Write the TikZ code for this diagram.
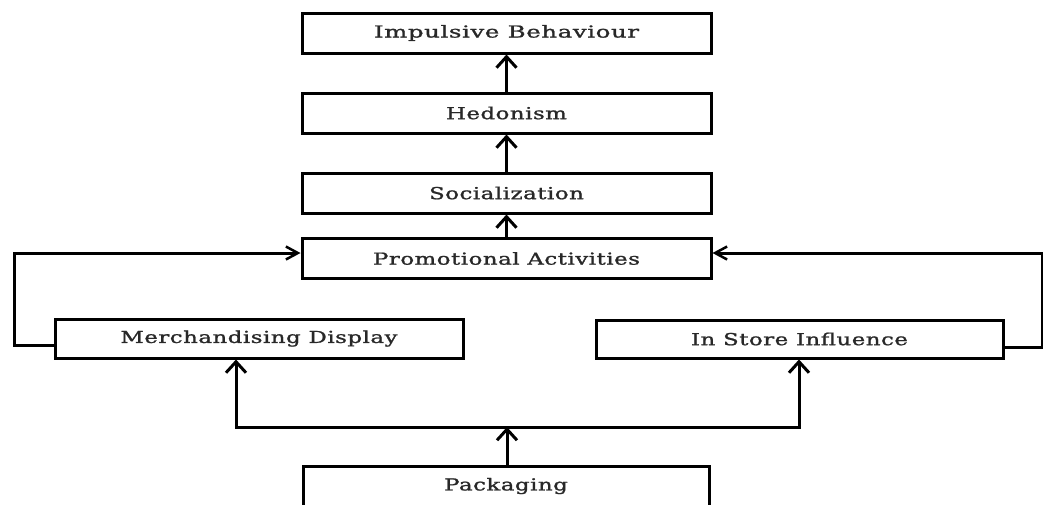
\documentclass[tikz,border=0pt]{standalone}
\usepackage{fontspec}
\usepackage{graphicx}
\newfontfamily\lblfont[LetterSpace=2.5,FakeBold=1.2]{DejaVu Serif}
\usetikzlibrary{arrows.meta}
\definecolor{txt}{RGB}{40,40,40}
\newcommand{\lbl}[2][1.38]{\scalebox{#1}[1]{#2}}
\tikzset{
  box/.style={draw=black, line width=3pt, minimum height=40pt, inner sep=0pt,
    font=\lblfont\fontsize{16.5}{20}\selectfont, text=txt},
  conn/.style={line width=3pt, draw=black},
  vtip/.style={-{Straight Barb[length=11pt,width=20pt,line width=3pt]}},
  htip/.style={-{Straight Barb[length=12pt,width=13pt,line width=2.5pt]}}
}
\begin{document}
\begin{tikzpicture}[x=1pt,y=-1pt]
\useasboundingbox (0,0) rectangle (1043,504);
\clip (0,0) rectangle (1043,504);
\node[box, minimum width=409pt] (imp) at (506.5,33) {\lbl[1.48]{Impulsive Behaviour}};
\node[box, minimum width=409pt] (hed) at (506.5,113) {\lbl{Hedonism}};
\node[box, minimum width=409pt] (soc) at (506.5,193) {\lbl{Socialization}};
\node[box, minimum width=409pt] (pro) at (506.5,258.5) {\lbl{Promotional Activities}};
\node[box, minimum width=408pt, minimum height=39pt] (mer) at (259,338.5) {\lbl{Merchandising Display}};
\node[box, minimum width=407pt, minimum height=38pt] (ins) at (799.5,339) {\lbl{In Store Influence}};
\node[box, minimum width=406pt] (pac) at (506,486) {\lbl{Packaging}};
% vertical chain
\draw[conn, vtip] (hed.north) -- (imp.south);
\draw[conn, vtip] (soc.north) -- (hed.south);
\draw[conn, vtip] (pro.north) -- (soc.south);
% left feedback
\coordinate (l1) at (14,345);
\coordinate (l2) at (14,253);
\draw[conn, htip] (mer.west |- l1) -- (l1) -- (l2) -- (pro.west |- l2);
% right feedback
\coordinate (r1) at (1042,347);
\coordinate (r2) at (1042,253);
\draw[conn, htip] (ins.east |- r1) -- (r1) -- (r2) -- (pro.east |- r2);
% packaging split
\coordinate (jn) at (507,427);
\coordinate (jl) at (236,427);
\coordinate (jr) at (799,427);
\draw[conn, vtip] (pac.north -| jn) -- (jn);
\draw[conn, vtip] (jn) -- (jl) -- (mer.south -| jl);
\draw[conn, vtip] (jn) -- (jr) -- (ins.south -| jr);
\end{tikzpicture}
\end{document}
